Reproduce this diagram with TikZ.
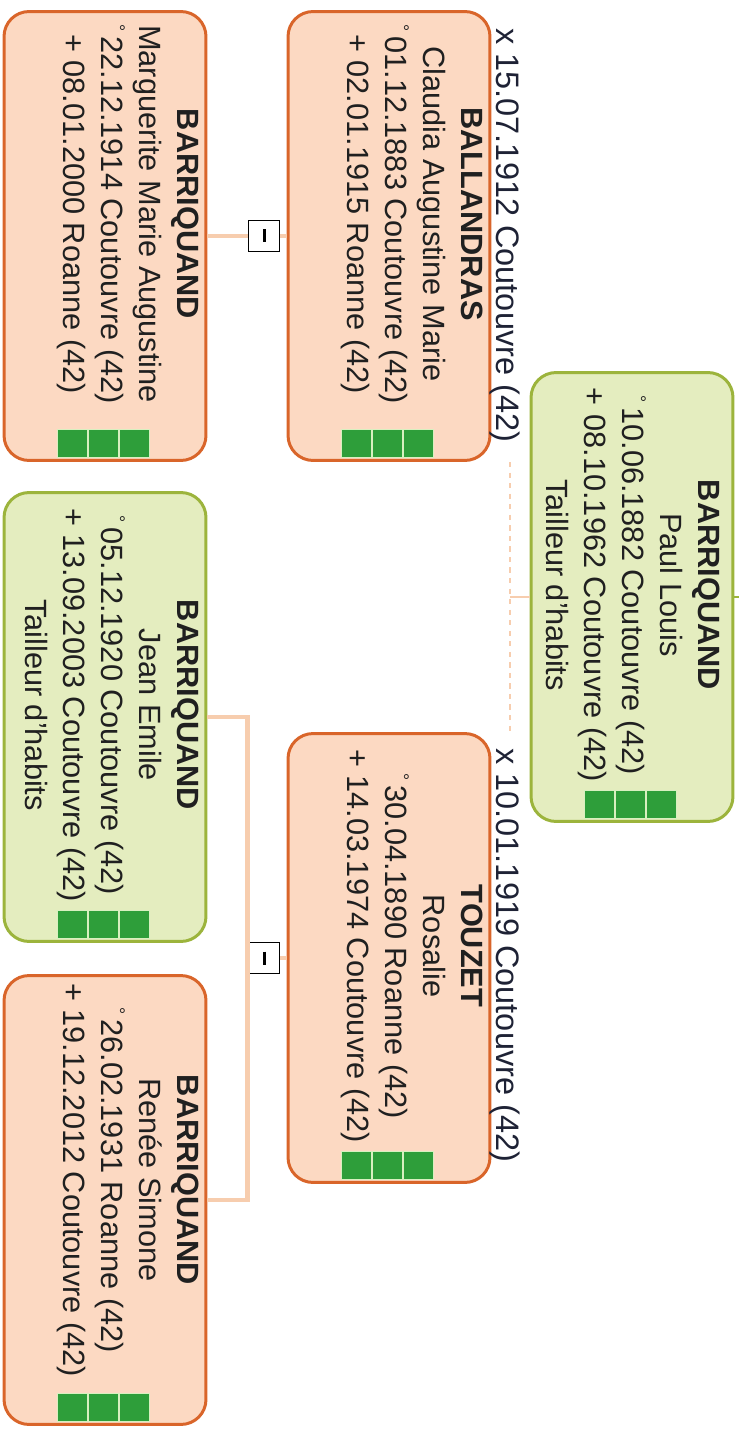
\documentclass[tikz,border=0pt]{standalone}
\usepackage{fontspec}
\setmainfont{Liberation Sans}
\usetikzlibrary{calc}

\definecolor{boxorange}{HTML}{D9652A}
\definecolor{boxpeach}{HTML}{FCD9C2}
\definecolor{boxolive}{HTML}{9CB43C}
\definecolor{boxlime}{HTML}{E4EDBF}
\definecolor{flaggreen}{HTML}{2E9E3A}
\definecolor{flagpale}{HTML}{D8F0C0}
\definecolor{linepeach}{HTML}{F7CDAE}
\definecolor{wedtext}{HTML}{1E2235}
\definecolor{inktext}{HTML}{202020}

\newcommand{\born}{\raisebox{0.35em}{\fontsize{10}{10}\selectfont °}\,}

\tikzset{
    person/.style={draw=boxorange, fill=boxpeach, line width=1.7pt,
        rounded corners=0.5cm, minimum width=8.98cm, minimum height=4.04cm, inner sep=0pt},
    man/.style={person, draw=boxolive, fill=boxlime},
    info/.style={anchor=north, align=center, inner sep=0pt, text=inktext,
        font=\fontsize{17.5}{21.6}\selectfont},
    wedding/.style={anchor=base west, inner sep=0pt, text=wedtext,
        font=\fontsize{18.5}{22}\selectfont},
    kidline/.style={draw=linepeach, line width=2.5pt},
    wedline/.style={draw=linepeach, line width=1pt, dashed},
    stub/.style={draw=boxolive, line width=1.7pt},
    foldbox/.style={draw=black, fill=white, line width=1pt, minimum size=0.62cm,
        inner sep=0pt},
    flag/.style={fill=flaggreen, draw=flagpale, line width=0.6pt}
}

\begin{document}
\begin{tikzpicture}[x=0.02cm, y=0.02cm, rotate=-90, transform shape]
    \useasboundingbox (0,0) rectangle (1432,739);

    % boxes
    \node[man]    (paul)       at (597,632) {};
    \node[person] (ballandras) at (236,389) {};
    \node[person] (touzet)     at (958,389) {};
    \node[person] (marguerite) at (236,105) {};
    \node[man]    (jean)       at (717,105) {};
    \node[person] (renee)      at (1200,105) {};

    % texts
    \node[info] (paul-t) at ($(paul.north)+(-12,-14)$)
        {\textbf{BARRIQUAND}\\Paul Louis\\\born 10.06.1882 Coutouvre (42)\\+ 08.10.1962 Coutouvre (42)\\Tailleur d'habits};
    \node[info] (ballandras-t) at ($(ballandras.north)+(-22,-8)$)
        {\textbf{BALLANDRAS}\\Claudia Augustine Marie\\\born 01.12.1883 Coutouvre (42)\\+ 02.01.1915 Roanne (42)};
    \node[info] (touzet-t) at ($(touzet.north)+(-12,-8)$)
        {\textbf{TOUZET}\\Rosalie\\\born 30.04.1890 Roanne (42)\\+ 14.03.1974 Coutouvre (42)};
    \node[info] (marguerite-t) at ($(marguerite.north)+(-22,-8)$)
        {\textbf{BARRIQUAND}\\Marguerite Marie Augustine\\\born 22.12.1914 Coutouvre (42)\\+ 08.01.2000 Roanne (42)};
    \node[info] (jean-t) at ($(jean.north)+(-12,-8)$)
        {\textbf{BARRIQUAND}\\Jean Emile\\\born 05.12.1920 Coutouvre (42)\\+ 13.09.2003 Coutouvre (42)\\Tailleur d'habits};
    \node[info] (renee-t) at ($(renee.north)+(-20,-8)$)
        {\textbf{BARRIQUAND}\\Renée Simone\\\born 26.02.1931 Roanne (42)\\+ 19.12.2012 Coutouvre (42)};

    % green marks
    \foreach \p in {paul,ballandras,touzet,marguerite,jean,renee}
        \foreach \k in {0,1,2}
            \filldraw[flag] ($(\p.south east)+(-32,55+31*\k)$) rectangle ++(28,30);

    % marriages
    \node[wedding] (wed1) at (28,496) {x 15.07.1912 Coutouvre (42)};
    \node[wedding] (wed2) at (748,496) {x 10.01.1919 Coutouvre (42)};
    \coordinate (wedl) at (462,510);
    \coordinate (wedr) at (731,510);
    \coordinate (wedmid) at (597,510);
    \draw[wedline] (wedl) -- (wedr);
    \draw[wedline, solid] (paul.south) -- (wedmid);
    \coordinate (up) at (597,745);
    \draw[stub] (paul.north) -- (up);

    % children
    \node[foldbox] (fold1) at (236,264) {\rule{0.26cm}{0.06cm}};
    \node[foldbox] (fold2) at (958,264) {\rule{0.26cm}{0.06cm}};
    \draw[kidline] (ballandras.south) -- (fold1.north);
    \draw[kidline] (fold1.south) -- (marguerite.north);
    \draw[kidline] (touzet.south) -- (fold2.north);
    \draw[kidline] (jean.north) |- (fold2.south) -| (renee.north);
\end{tikzpicture}
\end{document}
